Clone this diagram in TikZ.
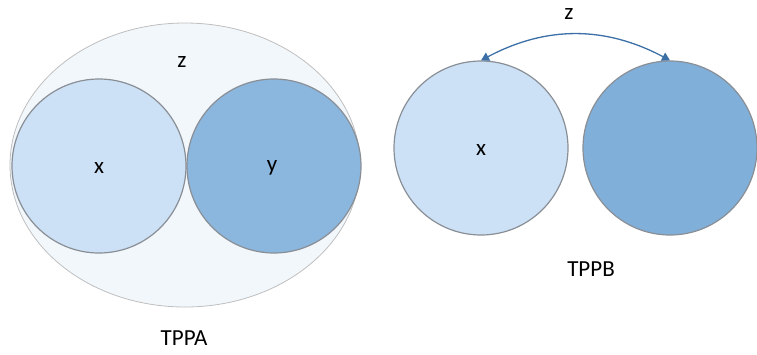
\documentclass[tikz,border=0pt]{standalone}
\usepackage{fontspec}
\setmainfont{Carlito}
\usetikzlibrary{arrows.meta,shapes.geometric}
\definecolor{lightc}{HTML}{CCE1F6}
\definecolor{darkc}{HTML}{80AFDA}
\definecolor{ellc}{HTML}{F2F7FC}
\definecolor{rimc}{HTML}{8A8F96}
\definecolor{arrc}{HTML}{3C6FA6}
\tikzset{
  circ/.style={circle, draw=rimc, line width=1.2pt, minimum size=174pt, inner sep=0pt},
  lab/.style={font=\fontsize{23}{26}\selectfont, inner sep=0pt},
}
\begin{document}
\begin{tikzpicture}[x=1pt,y=-1pt]
\useasboundingbox (0,0) rectangle (757,354);
% TPPA
\node[ellipse, draw=black!25, fill=ellc, line width=0.8pt, minimum width=350pt, minimum height=284pt, inner sep=0pt] (z1) at (185,165) {};
\node[circ, fill=lightc] (x1) at (99,166) {};
\node[circ, fill=darkc!85!lightc] (y1) at (274,166) {};
\node[lab] (zl1) at (182,62) {z};
\node[lab] (xl1) at (99,168) {x};
\node[lab] (yl1) at (272,168) {y};
\node[lab] (ta) at (184,338) {TPPA};
% TPPB
\node[circ, fill=lightc] (x2) at (481,148) {};
\node[circ, fill=darkc] (y2) at (670,148) {};
\node[lab] (xl2) at (481,150) {x};
\node[lab] (zl2) at (569,14) {z};
\node[lab] (tb) at (591,269) {TPPB};
\draw[arrc, line width=1.3pt, {Triangle[length=8pt,width=9pt]}-{Triangle[length=8pt,width=9pt]}]
  (x2.north) to[bend left=28] (y2.north);
\end{tikzpicture}
\end{document}
